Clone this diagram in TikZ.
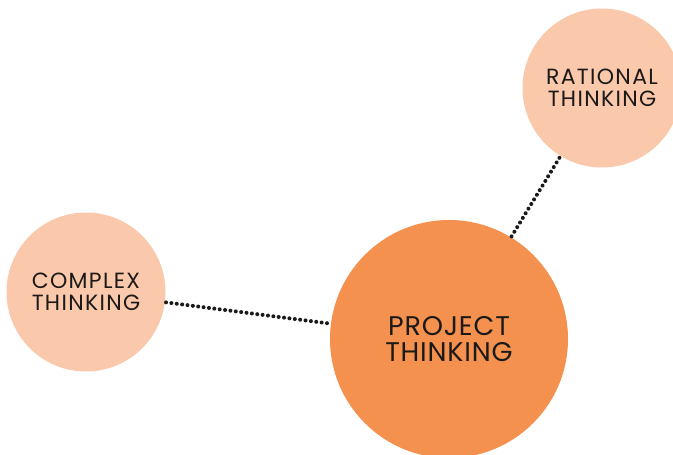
\documentclass[tikz,border=0pt]{standalone}
\usepackage{fontspec}
\setmainfont{Poppins}
\newfontfamily\capsfont[LetterSpace=6]{Poppins}
\newfontfamily\hubfont[LetterSpace=3]{Poppins}
\usetikzlibrary{positioning}
\definecolor{thpeach}{HTML}{FAC8AA}
\definecolor{thorange}{HTML}{F5914F}
\definecolor{think}{HTML}{1C1A18}

\begin{document}
\begin{tikzpicture}[
    x=1pt, y=-1pt,
    % ---- shared styles ---------------------------------------------------
    bubble/.style={circle, fill=thpeach, inner sep=0pt, align=center,
                   minimum size=159pt, text=think,
                   font=\capsfont\fontsize{22}{22}\selectfont},
    hub/.style={bubble, fill=thorange, minimum size=238pt,
                font=\hubfont\fontsize{27}{26}\selectfont},
    link/.style={draw=think, line width=4pt, line cap=round,
                 dash pattern=on 0.01pt off 5.4pt, shorten <=1pt, shorten >=2pt},
  ]
\useasboundingbox (0,0) rectangle (673,455);
\clip (0,0) rectangle (673,455);

% =========================================================================
% the three ideas
% =========================================================================
\node[hub]    (project)  at (449,339) {PROJECT\\THINKING};
\node[bubble] (complex)  at (86,292)  {COMPLEX\\THINKING};
\node[bubble] (rational) at (602,88)  {RATIONAL\\THINKING};

% dotted ties from the hub out to each idea
\draw[link] (complex) -- (project);
\draw[link] (project) -- (rational);

\end{tikzpicture}
\end{document}
